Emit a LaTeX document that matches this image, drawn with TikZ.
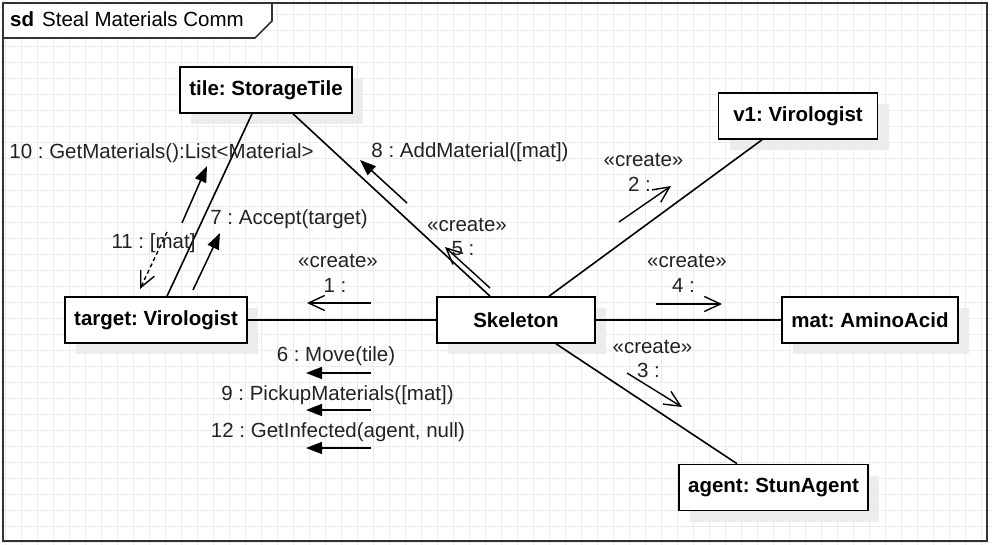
\documentclass[tikz,border=0pt]{standalone}
\usepackage{fontspec}
\setmainfont{Liberation Sans}
\usepackage{tikz}
\usetikzlibrary{arrows.meta,positioning,shadows}
\definecolor{gridgray}{HTML}{EBEBEB}
\definecolor{framegray}{HTML}{333333}
\definecolor{labelgray}{HTML}{222222}
\definecolor{shadowgray}{HTML}{ECECEC}
\frenchspacing

\begin{document}
\begin{tikzpicture}[
  x=1pt,y=-1pt,
  font=\fontsize{20.5}{24}\selectfont,
  obj/.style={draw=black,line width=1.6pt,fill=white,minimum height=46pt,inner sep=0pt,
    font=\fontsize{20.5}{24}\selectfont\bfseries,
    drop shadow={shadow xshift=11pt,shadow yshift=-11pt,fill=shadowgray,opacity=1}},
  link/.style={line width=1.6pt,draw=black},
  call/.style={-{Triangle[length=16pt,width=12pt]},line width=1.5pt},
  create/.style={-{Straight Barb[length=16pt,width=15pt]},line width=1.4pt},
  reply/.style={create,dash pattern=on 4pt off 3pt},
  lbl/.style={anchor=base,inner sep=0pt,text=labelgray},
  gridline/.style={draw=gridgray,line width=0.8pt}
]
\useasboundingbox (0,0) rectangle (992,545);
% background grid
\foreach \gx in {5.3,21.3,...,992} \draw[gridline] (\gx,0) -- (\gx,545);
\foreach \gy in {14,30,...,545} \draw[gridline] (0,\gy) -- (992,\gy);

% frame and title tab
\draw[draw=framegray,line width=1.6pt] (3,3) rectangle (987,541);
\draw[draw=framegray,line width=1.6pt,fill=white] (3,3) -- (272,3) -- (272,21) -- (255,38) -- (3,38) -- cycle;
\node[anchor=base west,inner sep=0pt,font=\fontsize{20.5}{24}\selectfont\bfseries] (sdkey) at (10,27) {sd};
\node[anchor=base west,inner sep=0pt] (sdname) at (42,27) {Steal Materials Comm};

% objects
\node[obj,minimum width=172pt] (tile) at (266,90) {tile: StorageTile};
\node[obj,minimum width=182pt] (target) at (156,320) {target: Virologist};
\node[obj,minimum width=158pt] (skel) at (516,320) {Skeleton};
\node[obj,minimum width=159pt] (v1) at (798,116) {v1: Virologist};
\node[obj,minimum width=176pt] (mat) at (870,320) {mat: AminoAcid};
\node[obj,minimum width=189pt] (agent) at (773.5,487.5) {agent: StunAgent};

% links
\draw[link] ([xshift=-14pt]tile.south) -- ([xshift=11pt]target.north);
\draw[link] ([xshift=27pt]tile.south) -- ([xshift=-26pt]skel.north);
\draw[link] ([xshift=33pt]skel.north) -- ([xshift=-36pt]v1.south);
\draw[link] (target.east) -- (skel.west);
\draw[link] (skel.east) -- (mat.west);
\draw[link] ([xshift=40pt]skel.south) -- ([xshift=-36.5pt]agent.north);

% message arrows
\coordinate (m1s) at (371,303);  \coordinate (m1e) at (307,303);
\coordinate (m2s) at (619,222);  \coordinate (m2e) at (671,186);
\coordinate (m3s) at (627,373);  \coordinate (m3e) at (682,407);
\coordinate (m4s) at (656,304);  \coordinate (m4e) at (722,304);
\coordinate (m5s) at (490,288);  \coordinate (m5e) at (445,247);
\coordinate (m6s) at (371,373);  \coordinate (m6e) at (306,373);
\coordinate (m7s) at (193,290);  \coordinate (m7e) at (220,233);
\coordinate (m8s) at (407,203);  \coordinate (m8e) at (360,160);
\coordinate (m9s) at (371,410);  \coordinate (m9e) at (306,410);
\coordinate (m10s) at (182,223); \coordinate (m10e) at (207,166);
\coordinate (m11s) at (167,232); \coordinate (m11e) at (140,289);
\coordinate (m12s) at (371,448); \coordinate (m12e) at (306,448);
\draw[create] (m1s) -- (m1e);
\draw[create] (m2s) -- (m2e);
\draw[create] (m3s) -- (m3e);
\draw[create] (m4s) -- (m4e);
\draw[create] (m5s) -- (m5e);
\draw[call] (m6s) -- (m6e);
\draw[call] (m7s) -- (m7e);
\draw[call] (m8s) -- (m8e);
\draw[call] (m9s) -- (m9e);
\draw[call] (m10s) -- (m10e);
\draw[reply] (m11s) -- (m11e);
\draw[call] (m12s) -- (m12e);

% message labels
\node[lbl] (c1) at (338,267) {«create»};
\node[lbl] (n1) at (335,292) {1 :};
\node[lbl] (c2) at (643.5,167) {«create»};
\node[lbl] (n2) at (639.5,192) {2 :};
\node[lbl] (c3) at (652.5,353) {«create»};
\node[lbl] (n3) at (648.5,377) {3 :};
\node[lbl] (c4) at (687,267) {«create»};
\node[lbl] (n4) at (683.5,292) {4 :};
\node[lbl] (c5) at (467,232) {«create»};
\node[lbl] (n5) at (463,255) {5 :};
\node[lbl] (t6) at (336,361) {6 : Move(tile)};
\node[lbl] (t7) at (289,225) {7 : Accept(target)};
\node[lbl] (t8) at (470,158) {8 : AddMaterial([mat])};
\node[lbl] (t9) at (337.5,400) {9 : PickupMaterials([mat])};
\node[lbl] (t10) at (161.5,159) {10 : GetMaterials():List<Material>};
\node[lbl] (t11) at (153.5,248) {11 : [mat]};
\node[lbl] (t12) at (338,437) {12 : GetInfected(agent, null)};
\end{tikzpicture}
\end{document}
